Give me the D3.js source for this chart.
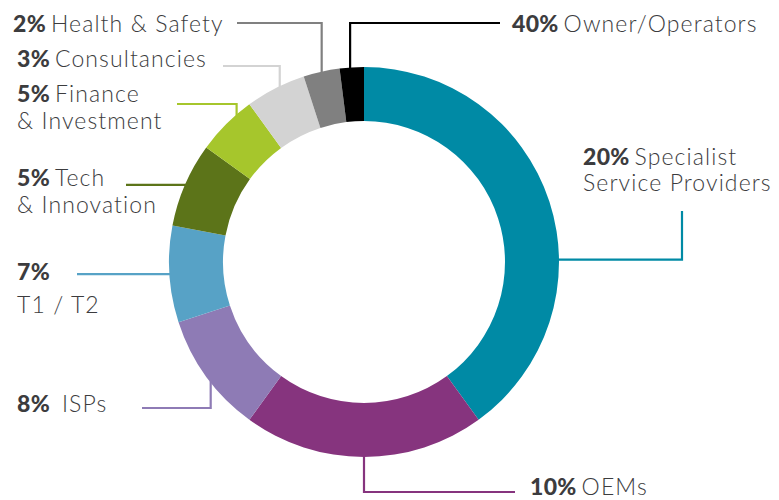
<!DOCTYPE html>
<html>
<head>
<meta charset="utf-8">
<script src="https://cdn.jsdelivr.net/npm/d3@7"></script>
<style>
  body { margin: 0; background: #fff; }
  svg text { font-family: Lato, "Open Sans", sans-serif; fill: #3c3c3e; }
</style>
</head>
<body>
<div id="chart"></div>
<script>
// slice shares, clockwise from 12 o'clock
const sliceValues = [40, 20, 10, 8, 7, 5, 5, 3, 2];
const sliceColors = ["#008aa5", "#86347e", "#8e7bb5", "#57a2c6", "#5c7419", "#a6c62c", "#d3d3d3", "#808080", "#000000"];
// labels as printed, one per slice (same order)
const labelPcts = ["20%", "10%", "8%", "7%", "5%", "5%", "3%", "2%", "40%"];
const labelNames = [
    ["Specialist", "Service Providers"],
    ["OEMs"],
    ["ISPs"],
    ["", "T1 / T2"],
    ["Tech", "& Innovation"],
    ["Finance", "& Investment"],
    ["Consultancies"],
    ["Health & Safety"],
    ["Owner/Operators"]
];

// label / leader layout
// t: where along the slice the leader leaves, kind v = up/down first, h = sideways first
const layout = [
    {t: 0.62, kind: "h", elbow: 682, end: 211, x: 583, y: 165, lh: 26, gap: 5},
    {t: 0.5, kind: "v", elbow: 492, end: 515, x: 530, y: 495, lh: 26, gap: 5},
    {t: 0.45, kind: "v", elbow: 408, end: 142, x: 17, y: 412, lh: 26, gap: 12},
    {t: 0.5, kind: "h", elbow: 77, x: 17, y: 280, lh: 33, gap: 5},
    {t: 0.5, kind: "h", elbow: 126, x: 17, y: 186, lh: 27, gap: 5},
    {t: 0.72, kind: "v", elbow: 104, end: 177, x: 17, y: 102, lh: 27, gap: 5},
    {t: 0.57, kind: "v", elbow: 66, end: 223, x: 17, y: 67, lh: 26, gap: 5},
    {t: 0.5, kind: "v", elbow: 23, end: 237, x: 13, y: 32, lh: 26, gap: 5},
    {t: 0.43, kind: "v", elbow: 23, end: 500, x: 512, y: 32, lh: 26, gap: 5}
];

const width = 779;
const height = 500;
const cx = 364, cy = 262;
const outerR = 195, innerR = 141;
const fontSize = 23;

const svg = d3.select("#chart").append("svg")
    .attr("width", width)
    .attr("height", height)
    .attr("viewBox", [0, 0, width, height]);

const pie = d3.pie().sort(null).value(d => d);
const arcs = pie(sliceValues);
const arc = d3.arc().innerRadius(innerR).outerRadius(outerR);

const g = svg.append("g").attr("transform", `translate(${cx},${cy})`);

// leader lines go under the ring
const leaders = g.append("g");
arcs.forEach((a, i) => {
    const L = layout[i];
    const ang = a.startAngle + (a.endAngle - a.startAngle) * L.t;
    const sx = outerR * Math.sin(ang) * 0.995;
    const sy = -outerR * Math.cos(ang) * 0.995;
    let pts;
    if (L.kind == "v") {
        pts = [[sx, sy], [sx, L.elbow - cy], [L.end - cx, L.elbow - cy]];
    } else {
        pts = [[sx, sy], [L.elbow - cx, sy]];
        if (L.end != undefined) pts.push([L.elbow - cx, L.end - cy]);
    }
    leaders.append("path")
        .attr("d", d3.line()(pts))
        .attr("fill", "none")
        .attr("stroke", sliceColors[i])
        .attr("stroke-width", 2.2);
});

g.selectAll("path.slice")
    .data(arcs)
    .join("path")
    .attr("class", "slice")
    .attr("fill", (d, i) => sliceColors[i])
    .attr("d", arc);

// labels
arcs.forEach((a, i) => {
    const L = layout[i];
    const names = labelNames[i];
    const t = svg.append("text")
        .attr("x", L.x)
        .attr("y", L.y)
        .attr("font-size", fontSize);
    t.append("tspan")
        .attr("font-weight", 900)
        .attr("letter-spacing", 0.3)
        .text(labelPcts[i]);
    if (names[0] != "") {
        t.append("tspan")
            .attr("dx", L.gap)
            .attr("font-weight", 300)
            .attr("letter-spacing", 1.1)
            .text(names[0]);
    }
    names.slice(1).forEach((n, j) => {
        svg.append("text")
            .attr("x", L.x)
            .attr("y", L.y + L.lh * (j + 1))
            .attr("font-size", fontSize)
            .attr("font-weight", 300)
            .attr("letter-spacing", 1.1)
            .text(n);
    });
});
</script>
</body>
</html>
